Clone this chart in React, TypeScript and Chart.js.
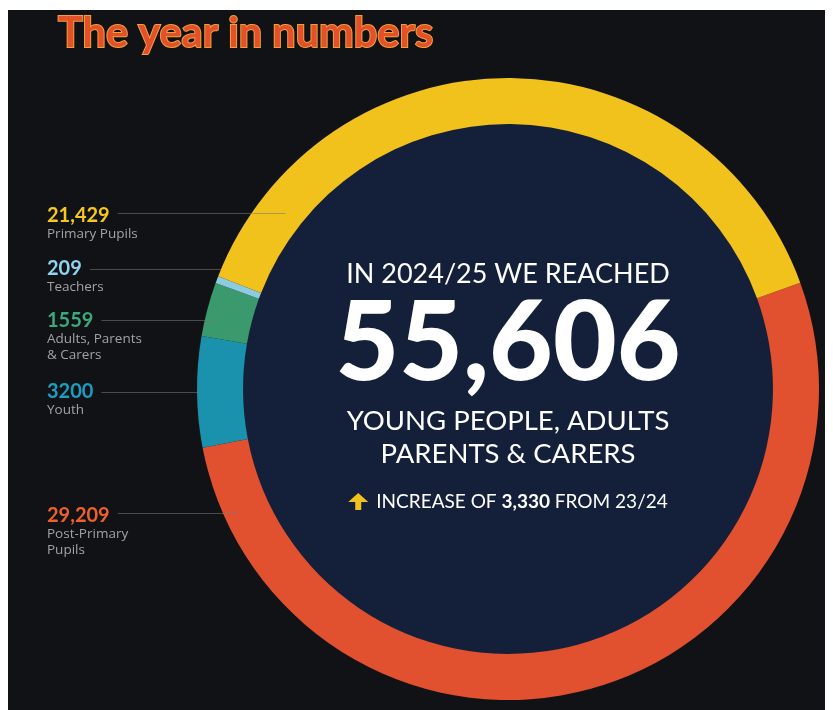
import React, { useEffect, useRef } from 'react';
import { Chart, registerables } from 'chart.js';

Chart.register(...registerables);

// ---------- data ----------
const categories = ['Primary Pupils', 'Teachers', 'Adults, Parents & Carers', 'Youth', 'Post-Primary Pupils'];
const categoryLines = [['Primary Pupils'], ['Teachers'], ['Adults, Parents', '& Carers'], ['Youth'], ['Post-Primary', 'Pupils']];
const values = [21429, 209, 1559, 3200, 29209];
const valueLabels = ['21,429', '209', '1559', '3200', '29,209'];
const segmentColors = ['#f2c21c', '#8ccbe2', '#3b9a6d', '#1a91ad', '#e1502f'];
const labelColors = ['#f5c81e', '#8fd3ee', '#3aa97c', '#1d9cc0', '#f0602c'];
const title = 'The year in numbers';
const headline = 'IN 2024/25 WE REACHED';
const totalText = '55,606';
const subLines = ['YOUNG PEOPLE, ADULTS', 'PARENTS & CARERS'];
const increaseParts = ['INCREASE OF ', '3,330', ' FROM 23/24'];

// ---------- layout ----------
const W = 825;
const H = 700;
const FONT = 'Lato, "Open Sans", sans-serif';
const SMALL_FONT = '"Open Sans", Lato, sans-serif';
const NAVY = '#14203a';
const labelX = 39;
const numberBaseline = [212, 265, 317, 388, 512];
const lineY = [203, 259, 310, 382, 503];
const lineInset = [34, 0, 8, 4, 14];

const overlayPlugin = {
  id: 'overlay',
  beforeDatasetsDraw(chart: any) {
    const ctx = chart.ctx;
    const arc = chart.getDatasetMeta(0).data[0];
    ctx.save();
    ctx.beginPath();
    ctx.arc(arc.x, arc.y, arc.innerRadius + 1, 0, Math.PI * 2);
    ctx.fillStyle = NAVY;
    ctx.fill();
    ctx.restore();
  },
  afterDatasetsDraw(chart: any) {
    const ctx = chart.ctx;
    const arc = chart.getDatasetMeta(0).data[0];
    const cx = arc.x;
    const cy = arc.y;
    const R = arc.outerRadius;
    ctx.save();

    // title
    ctx.font = `700 41.5px ${FONT}`;
    ctx.textAlign = 'left';
    ctx.textBaseline = 'alphabetic';
    ctx.lineWidth = 2;
    ctx.strokeStyle = '#f0a23a';
    ctx.strokeText(title, 50, 37);
    ctx.fillStyle = '#e4502a';
    ctx.fillText(title, 50, 37);

    // side labels with leader lines
    for (let i = 0; i < values.length; i++) {
      ctx.font = `700 20px ${FONT}`;
      ctx.fillStyle = labelColors[i];
      ctx.fillText(valueLabels[i], labelX, numberBaseline[i]);
      const tw = ctx.measureText(valueLabels[i]).width;
      const ly = lineY[i];
      const dy = ly - cy;
      const xEdge = cx - Math.sqrt(Math.max(R * R - dy * dy, 0)) + lineInset[i];
      ctx.beginPath();
      ctx.moveTo(labelX + tw + 8, ly + 0.5);
      ctx.lineTo(xEdge, ly + 0.5);
      ctx.strokeStyle = 'rgba(120,120,120,0.55)';
      ctx.lineWidth = 1;
      ctx.stroke();
      ctx.font = `400 13.5px ${SMALL_FONT}`;
      ctx.fillStyle = '#a2a2a2';
      categoryLines[i].forEach((t, j) => {
        ctx.fillText(t, labelX, numberBaseline[i] + 16 + j * 16);
      });
    }

    // centre text
    ctx.textAlign = 'center';
    ctx.fillStyle = '#ffffff';
    ctx.font = `400 27px ${FONT}`;
    ctx.fillText(headline, cx, 273);
    ctx.font = `900 110px ${FONT}`;
    ctx.fillText(totalText, cx, 370);
    ctx.font = `400 27.5px ${FONT}`;
    ctx.fillText(subLines[0], cx, 420);
    ctx.fillText(subLines[1], cx, 453);

    // increase line
    ctx.textAlign = 'left';
    const fonts = [`400 19px ${FONT}`, `700 19px ${FONT}`, `400 19px ${FONT}`];
    let total = 0;
    const widths = increaseParts.map((p, k) => {
      ctx.font = fonts[k];
      const w = ctx.measureText(p).width;
      total += w;
      return w;
    });
    const arrowW = 20;
    const gap = 8;
    let x = cx - (total + arrowW + gap) / 2;
    const ab = 498;
    ctx.fillStyle = '#f2c21c';
    ctx.beginPath();
    ctx.moveTo(x + arrowW / 2, ab - 15);
    ctx.lineTo(x + arrowW, ab - 6);
    ctx.lineTo(x + arrowW / 2 + 3, ab - 6);
    ctx.lineTo(x + arrowW / 2 + 3, ab + 2);
    ctx.lineTo(x + arrowW / 2 - 3, ab + 2);
    ctx.lineTo(x + arrowW / 2 - 3, ab - 6);
    ctx.lineTo(x, ab - 6);
    ctx.closePath();
    ctx.fill();
    x += arrowW + gap;
    ctx.fillStyle = '#ffffff';
    increaseParts.forEach((p, k) => {
      ctx.font = fonts[k];
      ctx.fillText(p, x, ab);
      x += widths[k];
    });

    ctx.restore();
  },
};

export default function App() {
  const ref = useRef<HTMLCanvasElement | null>(null);
  useEffect(() => {
    if (!ref.current) return;
    const order = values.map((_, i) => values.length - 1 - i);
    const chart = new Chart(ref.current, {
      type: 'doughnut',
      data: {
        labels: order.map((i) => categories[i]),
        datasets: [
          {
            data: order.map((i) => values[i]),
            backgroundColor: order.map((i) => segmentColors[i]),
            borderWidth: 0,
            hoverOffset: 0,
          },
        ],
      },
      options: {
        responsive: false,
        animation: false,
        rotation: 70,
        cutout: '85.2%',
        layout: { padding: { left: 189, right: 14, top: 68, bottom: 10 } },
        plugins: { legend: { display: false }, tooltip: { enabled: false }, title: { display: false } },
        events: [],
      },
      plugins: [overlayPlugin],
    });
    return () => chart.destroy();
  }, []);
  return (
    <div style={{ marginTop: 2, width: W, height: H, background: '#111215' }}>
      <canvas ref={ref} width={W} height={H} style={{ display: 'block', width: W, height: H }} />
    </div>
  );
}
